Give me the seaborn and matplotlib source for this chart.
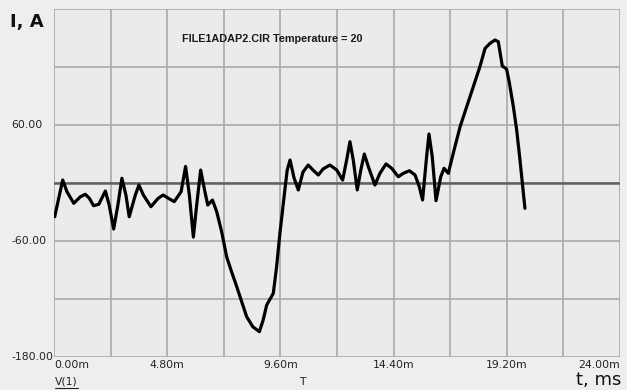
import matplotlib
matplotlib.use("Agg")
import matplotlib.pyplot as plt
import matplotlib.transforms as mtransforms
import seaborn as sns
import pandas as pd

# Transient current waveform (time in ms, current in A)
time_ms = [0.03, 0.20, 0.37, 0.55, 0.84, 1.12, 1.33, 1.50, 1.68, 1.90,
           2.18, 2.34, 2.53, 2.71, 2.88, 3.05, 3.19, 3.45, 3.60, 3.79,
           4.11, 4.42, 4.63, 4.85, 5.10, 5.39, 5.58, 5.74, 5.91, 6.05,
           6.22, 6.40, 6.52, 6.72, 6.90, 7.11, 7.32, 7.53, 7.75, 7.96,
           8.17, 8.43, 8.71, 8.87, 9.02, 9.30, 9.44, 9.58, 9.79, 9.89,
           10.01, 10.18, 10.36, 10.56, 10.78, 10.98, 11.21, 11.41, 11.70, 11.99,
           12.24, 12.41, 12.55, 12.69, 12.86, 13.01, 13.16, 13.33, 13.61, 13.82,
           14.08, 14.32, 14.60, 14.81, 15.07, 15.31, 15.49, 15.63, 15.80, 15.90,
           16.04, 16.20, 16.40, 16.54, 16.72, 16.93, 17.22, 17.50, 17.78, 18.06,
           18.28, 18.49, 18.70, 18.84, 19.01, 19.19, 19.30, 19.48, 19.62, 19.76,
           19.97]
current_a = [-34.9, -15.8, 3.1, -9.0, -21.0, -14.2, -11.7, -15.8, -23.5, -22.0,
             -8.3, -22.8, -47.6, -22.8, 4.9, -12.4, -34.9, -12.4, -2.1, -12.4,
             -24.5, -15.8, -12.4, -15.8, -19.3, -9.0, 17.1, -12.4, -55.9, -22.8,
             13.4, -9.0, -22.8, -17.6, -29.7, -50.4, -76.2, -91.8, -107.3, -122.8,
             -138.3, -148.7, -153.8, -141.7, -126.2, -114.1, -86.6, -52.0, -7.2, 13.4,
             23.8, 5.2, -7.2, 11.4, 18.6, 13.4, 8.3, 14.5, 18.6, 13.4,
             3.1, 23.8, 42.7, 23.8, -7.2, 13.4, 30.0, 16.9, -2.1, 10.0,
             19.7, 15.2, 6.5, 10.0, 12.7, 8.3, -3.8, -17.6, 27.2, 50.7,
             27.2, -18.3, 6.5, 15.2, 10.0, 30.7, 58.2, 78.9, 99.6, 120.3,
             139.3, 144.5, 147.9, 146.2, 121.0, 118.0, 105.0, 78.9, 54.8, 23.8,
             -26.2]

x_ticks = [0.0, 4.8, 9.6, 14.4, 19.2, 24.0]
x_tick_labels = ["0.00m", "4.80m", "9.60m", "14.40m", "19.20m", "24.00m"]
y_ticks = [60, -60, -180]
y_tick_labels = ["60.00", "-60.00", "-180.00"]

sns.set_theme(style="whitegrid")
plt.rcParams["font.family"] = ["DejaVu Sans"]

fig = plt.figure(figsize=(6.27, 3.90), dpi=100, facecolor="#eeeeee")
ax = fig.add_axes([0.0861, 0.0846, 0.9027, 0.8923])
ax.set_facecolor("#ebebeb")

df = pd.DataFrame({"t": time_ms, "i": current_a})

# grid: 10 time divisions of 2.4 ms, 6 current divisions of 60 A
grid_c = "#aaaaaa"
for k in range(11):
    ax.axvline(k * 2.4, color=grid_c, lw=1.2, zorder=1)
for k in range(7):
    ax.axhline(-180 + k * 60, color=grid_c, lw=1.2, zorder=1)
ax.axhline(0, color="#606060", lw=1.8, zorder=2)

sns.lineplot(data=df, x="t", y="i", ax=ax, color="black", lw=2.3,
             sort=False, estimator=None, zorder=3,
             solid_joinstyle="round", solid_capstyle="round")

ax.set_xlim(0, 24)
ax.set_ylim(-180, 180)
ax.grid(False)
for s in ax.spines.values():
    s.set_visible(False)
ax.set_xlabel("")
ax.set_ylabel("")
ax.set_xticks([])
ax.set_yticks([])

# tick labels drawn in axes coordinates
for xv, lab in zip(x_ticks, x_tick_labels):
    ha = "center"
    if xv == x_ticks[0]:
        ha = "left"
    elif xv == x_ticks[-1]:
        ha = "right"
    ax.text(xv / 24.0, -0.008, lab, transform=ax.transAxes, ha=ha, va="top",
            fontsize=7.8, color="#222222")
ylab_tr = mtransforms.blended_transform_factory(fig.transFigure, ax.transData)
for yv, lab in zip(y_ticks, y_tick_labels):
    fig.text(11 / 627, yv, lab, ha="left", va="center", fontsize=7.8,
             color="#222222", transform=ylab_tr)

fig.text(10 / 627, 1 - 22 / 390, "I, A", ha="left", va="center",
         fontsize=13, fontweight="bold", color="#111111")
fig.text(621 / 627, 1 - 380 / 390, "t, ms", ha="right", va="center",
         fontsize=13, color="#111111")
fig.text(55 / 627, 1 - 381 / 390, "V(1)", ha="left", va="center",
         fontsize=7.8, color="#222222")
fig.add_artist(plt.Line2D([55 / 627, 78 / 627], [1 - 387.5 / 390] * 2,
                          color="#222222", lw=0.8))
fig.text(302 / 627, 1 - 382 / 390, "T", ha="center", va="center",
         fontsize=7.8, color="#222222")
ax.text(0.3865, 0.915, "FILE1ADAP2.CIR Temperature = 20", transform=ax.transAxes,
        ha="center", va="center", fontsize=7.8, fontweight="bold",
        color="#1a1a1a", family=["Liberation Sans", "DejaVu Sans"])

fig.savefig("out.png", dpi=100, facecolor=fig.get_facecolor())
